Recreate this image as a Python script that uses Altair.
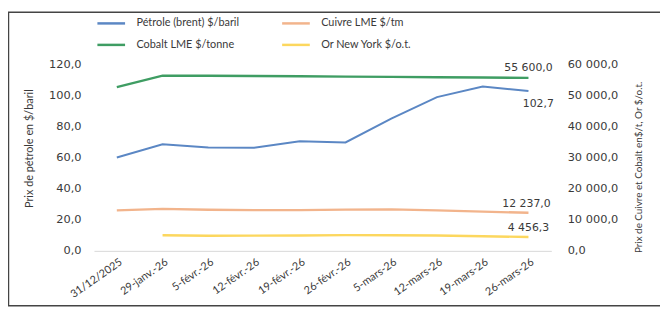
import altair as alt
import pandas as pd

# ---- data ----
dates = ["31/12/2025", "29-janv.-26", "5-févr.-26", "12-févr.-26", "19-févr.-26",
         "26-févr.-26", "5-mars-26", "12-mars-26", "19-mars-26", "26-mars-26"]
oil = [60.0, 68.5, 66.5, 66.3, 70.5, 69.7, 85.0, 98.8, 105.6, 102.7]
copper = [13000, 13500, 13200, 13100, 13100, 13250, 13350, 13000, 12600, 12237.0]
cobalt = [52600, 56290, 56290, 56200, 56100, 56000, 55900, 55800, 55700, 55600.0]
gold = [None, 5000, 4850, 4900, 4950, 5050, 5000, 4950, 4700, 4456.3]

# legend is filled column by column: oil, cobalt | copper, gold
names = ["Pétrole (brent) $/baril", "Cobalt LME $/tonne", "Cuivre LME $/tm", "Or New York $/o.t."]
colors = ["#5b87c4", "#3f9d63", "#f2b48c", "#fcd75e"]

left_ticks = [0, 20, 40, 60, 80, 100, 120]
right_ticks = [0, 10000, 20000, 30000, 40000, 50000, 60000]

left_df = pd.DataFrame({"date": dates, "value": oil, "serie": names[0]})
right_df = pd.concat([
    pd.DataFrame({"date": dates, "value": copper, "serie": names[2]}),
    pd.DataFrame({"date": dates, "value": cobalt, "serie": names[1]}),
    pd.DataFrame({"date": dates, "value": gold, "serie": names[3]}),
]).dropna()

NUM_FONT = "DejaVu Sans"
TXT_FONT = "Lato"
TXT_COLOR = "#3a3a3a"

fr_left = "replace(format(datum.value, '.1f'), '.', ',')"
fr_right = "replace(replace(format(datum.value, ',.1f'), regexp(',', 'g'), ' '), '.', ',')"

x_enc = alt.X("date:N", sort=dates, scale=alt.Scale(type="point", padding=0.5),
              axis=alt.Axis(title=None, labelAngle=-35, labelAlign="right", labelBaseline="middle",
                            labelPadding=10, labelOffset=4, ticks=False, domainColor="#d8d8d8",
                            labelFont=TXT_FONT, labelFontSize=11, labelColor=TXT_COLOR,
                            labelOverlap=False))

legend = alt.Legend(orient="none", legendX=9, legendY=-50, columns=2, title=None,
                    symbolType="M-2,0H2", symbolSize=196, symbolStrokeWidth=2.5,
                    labelFont=TXT_FONT, labelFontSize=11, labelColor=TXT_COLOR,
                    columnPadding=38, rowPadding=8, labelOffset=17, padding=0)
color_enc = alt.Color("serie:N", scale=alt.Scale(domain=names, range=colors), legend=legend)

y_left = alt.Y("value:Q", scale=alt.Scale(domain=[0, 120]),
               axis=alt.Axis(orient="left", values=left_ticks, labelExpr=fr_left, grid=False,
                             ticks=False, domain=False, labelPadding=13, labelOverlap=False,
                             labelFont=NUM_FONT, labelFontSize=11.5, labelColor=TXT_COLOR,
                             title="Prix de pétrole en $/baril", titleFont=TXT_FONT,
                             titleFontSize=11, titleFontWeight="normal", titleColor=TXT_COLOR,
                             titleAngle=-90, titleX=-65, titleY=85,
                             titleAlign="center", titleBaseline="middle"))
y_right = alt.Y("value:Q", scale=alt.Scale(domain=[0, 60000]),
                axis=alt.Axis(orient="right", values=right_ticks, labelExpr=fr_right, grid=False,
                              ticks=False, domain=False, labelPadding=16, labelOverlap=False,
                              labelFont=NUM_FONT, labelFontSize=11.5, labelColor=TXT_COLOR,
                              title="Prix de Cuivre et Cobalt en$/t, Or $/o.t.", titleFont=TXT_FONT,
                              titleFontSize=10, titleFontWeight="normal", titleColor=TXT_COLOR,
                              titleAngle=-90, titleX=88, titleY=104,
                              titleAlign="center", titleBaseline="middle"))

oil_line = alt.Chart(left_df).mark_line(strokeWidth=2).encode(x=x_enc, y=y_left, color=color_enc)
oil_label = alt.Chart(left_df).transform_filter(
    alt.datum.date == dates[-1]).transform_calculate(lab=fr_left).mark_text(
    font=NUM_FONT, fontSize=11, color=TXT_COLOR, dx=10, dy=13).encode(
    x=x_enc, y=y_left, text="lab:N")
left = alt.layer(oil_line, oil_label)

r_lines = alt.Chart(right_df).mark_line(strokeWidth=2.4).encode(x=x_enc, y=y_right, color=color_enc)

def r_label(name, dx, dy):
    return alt.Chart(right_df).transform_filter(
        (alt.datum.date == dates[-1]) & (alt.datum.serie == name)).transform_calculate(
        lab=fr_right).mark_text(font=NUM_FONT, fontSize=11, color=TXT_COLOR, dx=dx, dy=dy).encode(
        x=x_enc, y=y_right, text="lab:N")

right = alt.layer(r_lines, r_label(names[1], 0, -10), r_label(names[2], -2, -9),
                  r_label(names[3], 0, -9))

frame = alt.Chart(pd.DataFrame({"a": [0]})).mark_rect(
    fill=None, stroke="#444444", strokeWidth=1.5).encode(
    x=alt.value(-86.5), x2=alt.value(700), y=alt.value(-52.5), y2=alt.value(244.5))

chart = alt.layer(left, right, frame).resolve_scale(y="independent").properties(
    width=463, height=189,
    autosize=alt.AutoSizeParams(type="none"),
    padding={"left": 87, "top": 55, "right": 110, "bottom": 57},
).configure_view(stroke=None).configure_axis(labelOverlap=False)

chart.save("out.html", embed_options={"renderer": "svg", "actions": False})
